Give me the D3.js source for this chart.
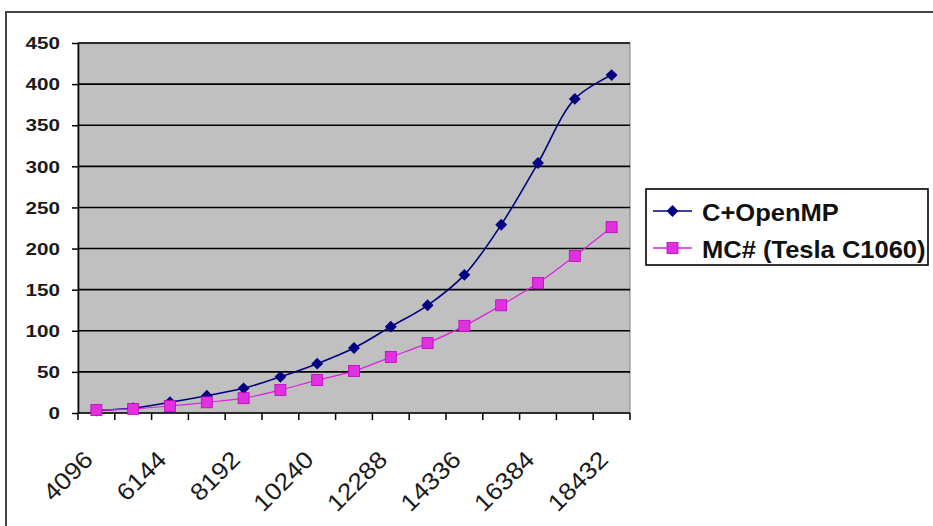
<!DOCTYPE html>
<html>
<head>
<meta charset="utf-8">
<script src="https://cdn.jsdelivr.net/npm/d3@7"></script>
<style>
  html, body { margin: 0; padding: 0; background: #fff; }
  svg { display: block; }
  text { font-family: "Liberation Sans", Arial, sans-serif; }
</style>
</head>
<body>
<script>
// ---- data ----
const categories = [4096, 5120, 6144, 7168, 8192, 9216, 10240, 11264, 12288, 13312, 14336, 15360, 16384, 17408, 18432];
const openmp  = [3, 6, 13, 21, 30, 44, 60, 79, 105, 131, 168, 229, 304, 382, 411];
const mcsharp = [3.5, 5, 8.5, 13, 18, 28, 40, 51, 68, 85, 106, 131, 158, 191, 226];
const yTicks = [0, 50, 100, 150, 200, 250, 300, 350, 400, 450];
const seriesNames = ["C+OpenMP", "MC# (Tesla C1060)"];

const W = 933, H = 526;
const plot = { left: 78, right: 630, top: 43, bottom: 413 };

const svg = d3.select("body").append("svg").attr("width", W).attr("height", H);

// outer chart border
svg.append("rect").attr("x", 6).attr("y", 12).attr("width", W + 20).attr("height", H + 20)
  .attr("fill", "#fff").attr("stroke", "#444").attr("stroke-width", 2);

const x = d3.scaleBand().domain(categories).range([plot.left, plot.right]).padding(0);
const y = d3.scaleLinear().domain([0, 450]).range([plot.bottom, plot.top]);

// plot area
svg.append("rect").attr("x", plot.left).attr("y", plot.top)
  .attr("width", plot.right - plot.left).attr("height", plot.bottom - plot.top)
  .attr("fill", "#C0C0C0").attr("stroke", "#808080").attr("stroke-width", 1);

// gridlines
svg.append("g").selectAll("line").data(yTicks.filter(d => d > 0)).join("line")
  .attr("x1", plot.left).attr("x2", plot.right)
  .attr("y1", d => y(d)).attr("y2", d => y(d))
  .attr("stroke", "#000").attr("stroke-width", 1.6);

// y axis
const yAxis = svg.append("g").attr("transform", `translate(${plot.left},0)`)
  .call(d3.axisLeft(y).tickValues(yTicks).tickSize(6).tickSizeOuter(0));
yAxis.select(".domain").attr("stroke", "#000").attr("stroke-width", 1.6);
yAxis.selectAll(".tick line").attr("stroke", "#000").attr("stroke-width", 1.5);
yAxis.selectAll(".tick text")
  .attr("x", 0).attr("dy", "0.36em")
  .attr("transform", "translate(-18,0) scale(1.29,1)")
  .attr("font-size", 16).attr("font-weight", "bold").attr("fill", "#1a1a1a")
  .style("font-family", '"Liberation Sans", Arial, sans-serif');

// x axis line
svg.append("line").attr("x1", plot.left).attr("x2", plot.right)
  .attr("y1", plot.bottom).attr("y2", plot.bottom)
  .attr("stroke", "#000").attr("stroke-width", 1.6);
// x ticks at category boundaries
const bounds = categories.map(c => x(c)).concat([x(categories[categories.length - 1]) + x.bandwidth()]);
svg.append("g").selectAll("line").data(bounds).join("line")
  .attr("x1", d => d).attr("x2", d => d)
  .attr("y1", plot.bottom).attr("y2", plot.bottom + 7)
  .attr("stroke", "#000").attr("stroke-width", 1.5);
// x labels (every other category)
svg.append("g").selectAll("text").data(categories.filter((c, i) => i % 2 === 0)).join("text")
  .attr("text-anchor", "end")
  .attr("transform", d => `translate(${x(d) + x.bandwidth() / 2 - 2},461) rotate(-45) scale(1.1,1)`)
  .attr("font-size", 24).attr("fill", "#1a1a1a")
  .text(d => d);

// series
const cx = d => x(d) + x.bandwidth() / 2;
const line = d3.line().curve(d3.curveCatmullRom.alpha(0.5)).x(d => cx(d[0])).y(d => y(d[1]));
const s1 = categories.map((c, i) => [c, openmp[i]]);
const s2 = categories.map((c, i) => [c, mcsharp[i]]);

svg.append("path").datum(s1).attr("d", line).attr("fill", "none")
  .attr("stroke", "#000080").attr("stroke-width", 1.6);
svg.append("g").selectAll("path").data(s1).join("path")
  .attr("d", d3.symbol().type(d3.symbolDiamond2).size(90))
  .attr("transform", d => `translate(${cx(d[0])},${y(d[1])})`)
  .attr("fill", "#000080");

svg.append("path").datum(s2).attr("d", line).attr("fill", "none")
  .attr("stroke", "#E020E0").attr("stroke-width", 1.2);
svg.append("g").selectAll("rect").data(s2).join("rect")
  .attr("x", d => cx(d[0]) - 5.5).attr("y", d => y(d[1]) - 5.5)
  .attr("width", 11).attr("height", 11)
  .attr("fill", "#E030E0").attr("stroke", "#C000C0").attr("stroke-width", 0.8);

// legend
const lg = svg.append("g");
lg.append("rect").attr("x", 646).attr("y", 189).attr("width", 282).attr("height", 76)
  .attr("fill", "#fff").attr("stroke", "#000").attr("stroke-width", 1.6);
const items = [
  { name: seriesNames[0], cy: 211, color: "#000080", kind: "diamond" },
  { name: seriesNames[1], cy: 248, color: "#E020E0", kind: "square" }
];
items.forEach(it => {
  lg.append("line").attr("x1", 653).attr("x2", 692).attr("y1", it.cy).attr("y2", it.cy)
    .attr("stroke", it.color).attr("stroke-width", 1.6);
  if (it.kind === "diamond") {
    lg.append("path").attr("d", d3.symbol().type(d3.symbolDiamond2).size(90))
      .attr("transform", `translate(672.5,${it.cy})`).attr("fill", it.color);
  } else {
    lg.append("rect").attr("x", 667).attr("y", it.cy - 5.5).attr("width", 11).attr("height", 11)
      .attr("fill", "#E030E0").attr("stroke", "#C000C0").attr("stroke-width", 0.8);
  }
  lg.append("text").attr("transform", `translate(702,${it.cy + 9.5}) scale(1.11,1)`)
    .attr("font-size", 23).attr("font-weight", "bold").attr("fill", "#111")
    .text(it.name);
});
</script>
</body>
</html>
